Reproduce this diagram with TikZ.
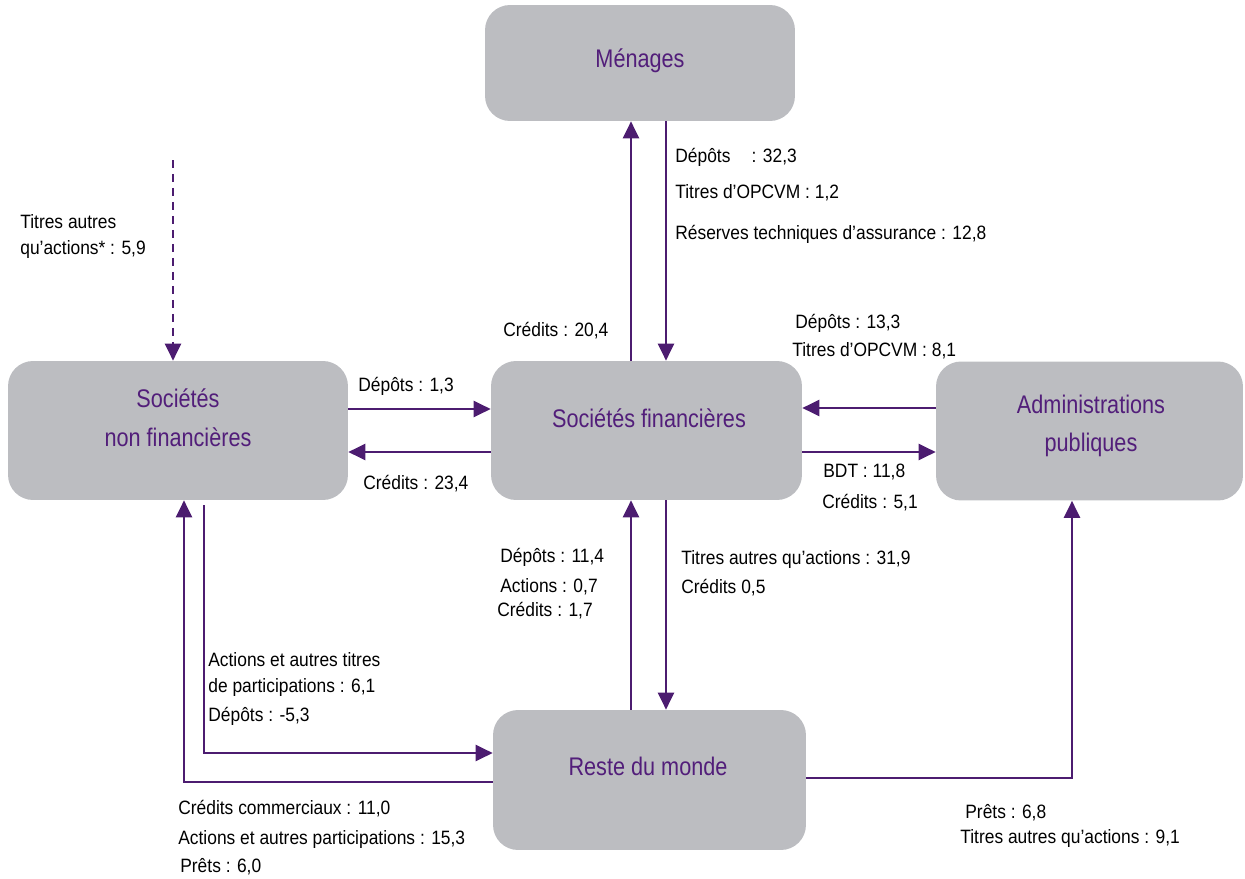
\documentclass[tikz,border=0pt]{standalone}
\usepackage{xcolor}
\usepackage{fontspec}
\setmainfont{Liberation Sans}[FakeStretch=0.9]
\newfontfamily\titlefont{Liberation Sans}[FakeStretch=0.85]
\usepackage{tikz}
\usetikzlibrary{arrows.meta, positioning}

\definecolor{boxgray}{RGB}{188,189,193}
\definecolor{flowpurple}{RGB}{76,28,112}
\definecolor{titlepurple}{RGB}{82,30,122}

\begin{document}
\begin{tikzpicture}[x=0.02cm, y=-0.02cm,
    box/.style={rounded corners=0.5cm, fill=boxgray, draw=none, inner sep=0pt},
    title/.style={text=titlepurple, align=center, font=\titlefont\fontsize{14.5}{22}\selectfont},
    lab/.style={anchor=west, inner sep=0pt, text height=0.72em, text depth=0pt, font=\fontsize{11}{13}\selectfont},
    flow/.style={draw=flowpurple, line width=1.35pt, -{Triangle[width=0.32cm, length=0.34cm]}}]
      \useasboundingbox (0,0) rectangle (1245,879);

      % sectors
      \node[box, minimum width=6.2cm, minimum height=2.32cm] (menages) at (640,63) {};
      \node[box, minimum width=6.8cm, minimum height=2.78cm] (snf) at (178,430.5) {};
      \node[box, minimum width=6.22cm, minimum height=2.78cm] (sf) at (646.5,430.5) {};
      \node[box, minimum width=6.14cm, minimum height=2.78cm] (ap) at (1089.5,431) {};
      \node[box, minimum width=6.26cm, minimum height=2.8cm] (rdm) at (649.5,780) {};

      \node[title] (tmenages) at (640,61) {Ménages};
      \node[title] (tsnf) at (178,417.5) {Sociétés\\non financières};
      \node[title] (tsf) at (649,418) {Sociétés financières};
      \node[title] (tap) at (1091,426) {Administrations\\publiques};
      \node[title] (trdm) at (648,766) {Reste du monde};

      % flows between sectors
      \draw[flow] (sf.north -| 631,0) -- (menages.south -| 631,0);
      \draw[flow] (menages.south -| 666,0) -- (sf.north -| 666,0);
      \draw[flow] (snf.east |- 0,409) -- (sf.west |- 0,409);
      \draw[flow] (sf.west |- 0,452) -- (snf.east |- 0,452);
      \draw[flow] (ap.west |- 0,408) -- (sf.east |- 0,408);
      \draw[flow] (sf.east |- 0,452) -- (ap.west |- 0,452);
      \draw[flow] (rdm.north -| 631,0) -- (sf.south -| 631,0);
      \draw[flow] (sf.south -| 666,0) -- (rdm.north -| 666,0);
      \draw[flow] ([yshift=-0.1cm]snf.south -| 204,0) |- (rdm.west |- 0,753);
      \draw[flow] (rdm.west |- 0,782) -| (snf.south -| 184,0);
      \draw[flow] (rdm.east |- 0,778) -| (ap.south -| 1072,0);
      \coordinate (ext) at (173,160);
      \draw[flow, dash pattern=on 0.16cm off 0.12cm] (ext) -- (snf.north -| ext);

      % amounts
      \foreach \x/\y/\t [count=\i] in {675/156/{Dépôts\hspace{1.1em}: 32,3},
          675/192/{Titres d’OPCVM : 1,2},
          675/233/{Réserves techniques d’assurance : 12,8},
          503/330/{Crédits : 20,4},
          795/322/{Dépôts : 13,3},
          792/350/{Titres d’OPCVM : 8,1},
          358/385/{Dépôts : 1,3},
          363/483/{Crédits : 23,4},
          823/471/{BDT : 11,8},
          822/502/{Crédits : 5,1},
          500/556/{Dépôts : 11,4},
          500/586/{Actions : 0,7},
          497/610/{Crédits : 1,7},
          681/558/{Titres autres qu’actions : 31,9},
          681/587/{Crédits 0,5},
          208/660/{Actions et autres titres},
          208/686/{de participations : 6,1},
          208/715/{Dépôts : -5,3},
          178/808/{Crédits commerciaux : 11,0},
          178/838/{Actions et autres participations : 15,3},
          180/866/{Prêts : 6,0},
          965/812/{Prêts : 6,8},
          960/837/{Titres autres qu’actions : 9,1},
          20/222/{Titres autres},
          20/248/{qu’actions* : 5,9}} {
        \node[lab] (amt\i) at (\x,\y) {\t};
      }
    \end{tikzpicture}
\end{document}
